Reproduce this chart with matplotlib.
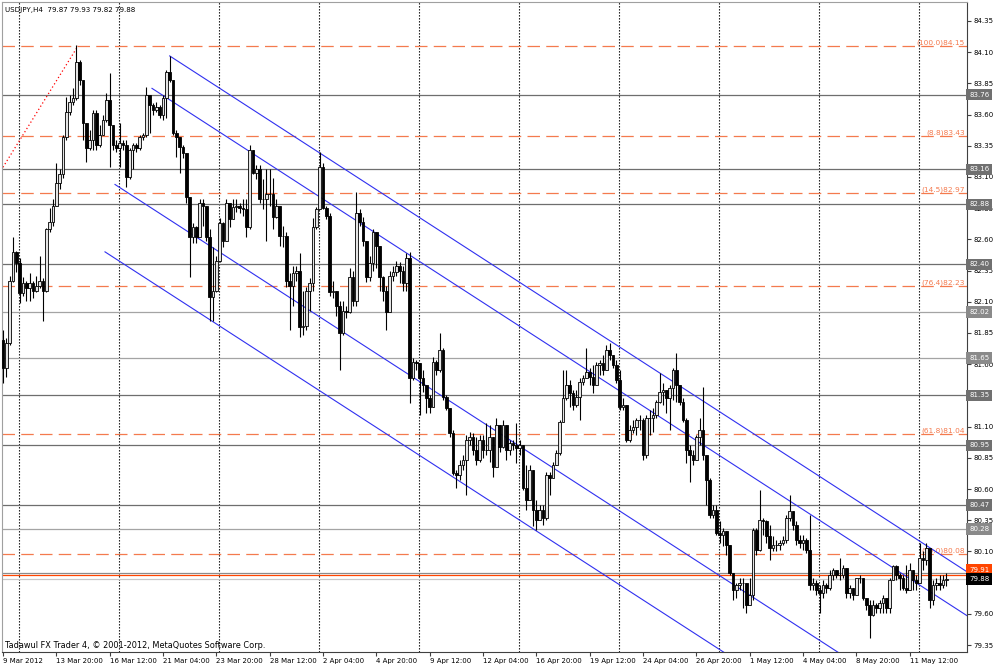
import numpy as np
import matplotlib.pyplot as plt
from matplotlib.transforms import blended_transform_factory

plt.rcParams['font.family'] = ['DejaVu Sans']

# header / footer text
symbol = "USDJPY,H4"
last_ohlc = [79.87, 79.93, 79.82, 79.88]
footer = "Tadawul FX Trader 4, \u00a9 2001-2012, MetaQuotes Software Corp."

# H4 candles (open of each bar = previous close)
first_open = 81.79
close = [
    81.57, 81.77, 82.27, 82.50, 82.41, 82.17, 82.25, 82.21, 82.25, 82.19,
    82.23, 82.27, 82.19, 82.68, 82.74, 82.87, 83.05, 83.12, 83.42, 83.62,
    83.70, 83.73, 84.02, 83.88, 83.53, 83.33, 83.40, 83.61, 83.36, 83.44,
    83.56, 83.72, 83.52, 83.36, 83.33, 83.37, 83.36, 83.10, 83.32, 83.36,
    83.33, 83.42, 83.44, 83.76, 83.68, 83.64, 83.66, 83.60, 83.73, 83.94,
    83.88, 83.45, 83.42, 83.34, 83.29, 82.94, 82.62, 82.70, 82.62, 82.89,
    82.87, 82.62, 82.14, 82.19, 82.43, 82.73, 82.59, 82.89, 82.76, 82.86,
    82.87, 82.85, 82.84, 82.70, 83.32, 83.13, 83.16, 82.92, 82.92, 82.96,
    82.96, 82.78, 82.87, 82.63, 82.63, 82.27, 82.23, 82.33, 82.35, 81.90,
    81.91, 82.19, 82.25, 82.70, 82.84, 83.18, 82.85, 82.79, 82.18, 82.19,
    82.07, 81.85, 82.03, 82.02, 82.30, 82.11, 82.81, 82.74, 82.59, 82.30,
    82.41, 82.66, 82.55, 82.30, 82.19, 82.02, 82.31, 82.34, 82.39, 82.35,
    82.25, 82.45, 81.49, 81.62, 81.61, 81.49, 81.43, 81.33, 81.26, 81.62,
    81.55, 81.71, 81.34, 81.25, 81.05, 80.73, 80.71, 80.79, 80.83, 80.99,
    81.02, 80.91, 80.83, 80.99, 80.91, 80.91, 81.02, 80.78, 81.11, 80.94,
    81.11, 80.91, 80.97, 80.95, 80.93, 80.95, 80.61, 80.51, 80.75, 80.43,
    80.35, 80.43, 80.37, 80.71, 80.69, 80.79, 80.89, 81.14, 81.33, 81.43,
    81.37, 81.27, 81.34, 81.46, 81.49, 81.54, 81.50, 81.43, 81.59, 81.61,
    81.55, 81.71, 81.67, 81.59, 81.47, 81.26, 81.27, 80.99, 81.07, 81.10,
    81.15, 81.15, 80.87, 81.17, 81.17, 81.19, 81.30, 81.38, 81.39, 81.33,
    81.41, 81.55, 81.43, 81.30, 81.15, 80.91, 80.87, 80.83, 81.02, 81.07,
    80.87, 80.67, 80.39, 80.43, 80.25, 80.23, 80.26, 80.15, 79.93, 79.79,
    79.83, 79.85, 79.85, 79.67, 79.75, 80.27, 80.11, 80.35, 80.34, 80.22,
    80.13, 80.15, 80.15, 80.17, 80.19, 80.37, 80.42, 80.31, 80.19, 80.17,
    80.19, 80.11, 79.83, 79.85, 79.79, 79.77, 79.83, 79.81, 79.91, 79.95,
    79.91, 79.91, 79.97, 79.77, 79.81, 79.75, 79.89, 79.89, 79.73, 79.67,
    79.59, 79.67, 79.65, 79.69, 79.73, 79.65, 79.87, 79.98, 79.91, 79.89,
    79.81, 79.79, 79.95, 79.87, 79.85, 80.05, 80.03, 80.13, 79.71, 79.83,
    79.85, 79.83, 79.87, 79.88,
]
high = [
    81.87, 81.81, 82.31, 82.62, 82.51, 82.45, 82.30, 82.27, 82.33, 82.27,
    82.31, 82.47, 82.29, 82.69, 82.85, 82.92, 83.21, 83.16, 83.44, 83.74,
    83.76, 83.81, 84.16, 84.04, 83.88, 83.53, 83.48, 83.64, 83.64, 83.52,
    83.60, 83.77, 83.93, 83.52, 83.40, 83.53, 83.40, 83.40, 83.33, 83.37,
    83.37, 83.44, 83.45, 83.82, 83.76, 83.69, 83.70, 83.68, 83.76, 83.96,
    84.07, 83.88, 83.48, 83.42, 83.36, 83.29, 82.94, 82.73, 82.71, 82.92,
    82.92, 82.87, 82.68, 82.54, 82.47, 82.77, 82.74, 82.92, 82.89, 82.92,
    82.92, 82.89, 82.92, 82.92, 83.36, 83.32, 83.20, 83.20, 83.08, 83.16,
    83.16, 83.09, 82.92, 82.87, 82.71, 82.66, 82.33, 82.39, 82.39, 82.49,
    82.19, 82.22, 82.29, 82.77, 82.86, 83.30, 83.21, 82.87, 82.81, 82.27,
    82.19, 82.11, 82.11, 82.07, 82.37, 82.35, 82.98, 82.84, 82.78, 82.59,
    82.47, 82.68, 82.61, 82.55, 82.31, 82.23, 82.35, 82.39, 82.43, 82.42,
    82.39, 82.49, 82.50, 81.65, 81.63, 81.55, 81.55, 81.43, 81.35, 81.66,
    81.63, 81.85, 81.73, 81.35, 81.25, 81.07, 80.75, 80.83, 80.87, 81.03,
    81.06, 81.05, 81.02, 81.03, 81.03, 81.13, 81.11, 81.01, 81.17, 81.11,
    81.15, 81.03, 80.99, 80.99, 81.13, 80.99, 80.91, 80.79, 80.79, 80.58,
    80.51, 80.47, 80.47, 80.74, 80.74, 80.82, 80.91, 81.15, 81.55, 81.55,
    81.47, 81.39, 81.39, 81.49, 81.51, 81.73, 81.57, 81.59, 81.62, 81.63,
    81.67, 81.75, 81.77, 81.67, 81.63, 81.55, 81.33, 81.27, 81.11, 81.15,
    81.17, 81.19, 81.17, 81.19, 81.23, 81.25, 81.31, 81.53, 81.45, 81.35,
    81.43, 81.57, 81.69, 81.43, 81.33, 81.17, 80.95, 80.91, 81.03, 81.17,
    81.42, 80.87, 80.69, 80.47, 80.47, 80.34, 80.29, 80.19, 80.15, 79.93,
    79.85, 79.89, 79.89, 79.85, 79.89, 80.29, 80.29, 80.59, 80.37, 80.35,
    80.31, 80.22, 80.19, 80.19, 80.22, 80.39, 80.55, 80.42, 80.34, 80.23,
    80.23, 80.21, 80.39, 79.89, 79.87, 79.83, 79.87, 79.85, 79.95, 79.97,
    79.93, 80.05, 79.99, 79.97, 79.83, 79.81, 79.89, 79.91, 79.89, 79.73,
    79.71, 79.71, 79.69, 79.71, 79.75, 79.71, 79.89, 79.99, 79.99, 79.93,
    79.91, 79.99, 80.01, 79.91, 79.91, 80.17, 80.10, 80.17, 80.13, 79.87,
    79.89, 79.91, 79.91, 79.93,
]
low = [
    81.45, 81.50, 81.75, 82.26, 82.34, 82.09, 82.15, 82.11, 82.11, 82.13,
    82.18, 82.21, 81.95, 82.18, 82.66, 82.71, 82.96, 83.00, 83.09, 83.40,
    83.60, 83.68, 83.72, 83.84, 83.40, 83.22, 83.32, 83.32, 83.32, 83.34,
    83.44, 83.54, 83.18, 83.32, 83.30, 83.18, 83.32, 83.02, 83.08, 83.16,
    83.30, 83.32, 83.40, 83.42, 83.45, 83.60, 83.62, 83.57, 83.56, 83.57,
    83.86, 83.44, 83.26, 83.13, 83.25, 82.89, 82.30, 82.57, 82.57, 82.62,
    82.71, 82.59, 81.95, 81.95, 82.18, 82.42, 82.54, 82.59, 82.70, 82.76,
    82.82, 82.81, 82.79, 82.62, 82.68, 83.12, 83.08, 82.89, 82.84, 82.59,
    82.87, 82.68, 82.77, 82.55, 82.54, 82.22, 81.87, 82.07, 82.27, 81.82,
    81.83, 81.87, 82.03, 82.19, 82.68, 82.84, 82.84, 82.76, 82.15, 82.13,
    81.99, 81.55, 81.83, 81.97, 82.01, 82.07, 82.07, 82.71, 82.55, 82.26,
    82.27, 82.35, 82.37, 82.19, 82.11, 81.87, 82.02, 82.27, 82.31, 82.25,
    82.19, 82.19, 81.29, 81.47, 81.55, 81.19, 81.38, 81.21, 81.21, 81.27,
    81.51, 81.54, 81.31, 81.23, 81.02, 80.71, 80.61, 80.67, 80.75, 80.55,
    80.95, 80.87, 80.79, 80.82, 80.85, 80.87, 80.82, 80.70, 80.82, 80.90,
    80.93, 80.83, 80.87, 80.91, 80.81, 80.87, 80.59, 80.43, 80.66, 80.30,
    80.27, 80.35, 80.31, 80.35, 80.55, 80.69, 80.79, 80.87, 81.15, 81.31,
    81.26, 81.23, 81.26, 81.15, 81.43, 81.49, 81.43, 81.37, 81.45, 81.51,
    81.51, 81.55, 81.63, 81.57, 81.45, 81.23, 81.23, 80.98, 80.98, 81.05,
    81.03, 81.07, 80.83, 80.85, 81.03, 81.06, 81.17, 81.29, 81.27, 81.21,
    81.07, 81.31, 81.30, 81.27, 81.14, 80.81, 80.66, 80.79, 80.86, 80.95,
    80.83, 80.47, 80.37, 80.37, 80.23, 80.17, 80.14, 80.07, 79.91, 79.71,
    79.73, 79.79, 79.65, 79.61, 79.71, 79.71, 80.07, 80.10, 80.23, 80.17,
    80.03, 80.10, 80.10, 80.11, 80.15, 80.17, 80.34, 80.27, 80.15, 80.13,
    80.11, 80.09, 79.79, 79.79, 79.75, 79.61, 79.73, 79.77, 79.79, 79.87,
    79.89, 79.87, 79.89, 79.73, 79.73, 79.71, 79.77, 79.85, 79.71, 79.63,
    79.41, 79.58, 79.61, 79.61, 79.61, 79.61, 79.61, 79.87, 79.87, 79.79,
    79.79, 79.77, 79.83, 79.79, 79.79, 79.85, 79.95, 79.99, 79.65, 79.67,
    79.79, 79.79, 79.81, 79.82,
]

time_labels = ["9 Mar 2012", "13 Mar 20:00", "16 Mar 12:00", "21 Mar 04:00",
               "23 Mar 20:00", "28 Mar 12:00", "2 Apr 04:00", "4 Apr 20:00",
               "9 Apr 12:00", "12 Apr 04:00", "16 Apr 20:00", "19 Apr 12:00",
               "24 Apr 04:00", "26 Apr 20:00", "1 May 12:00", "4 May 04:00",
               "8 May 20:00", "11 May 12:00"]
bars_per_label = 16
# scale labels that are not hidden under the line price boxes
price_ticks = [84.35, 84.10, 83.85, 83.60, 83.35, 83.10, 82.85, 82.60, 82.35,
               82.10, 81.85, 81.60, 81.10, 80.85, 80.60, 80.35, 80.10,
               79.60, 79.35]

# horizontal lines drawn by the user
hline_levels = [83.76, 83.16, 82.88, 82.40, 82.02, 81.65, 81.35, 80.95, 80.47, 80.28]
hline_colors = ['#6e6e6e', '#6e6e6e', '#6e6e6e', '#6e6e6e', '#a4a4a4',
                '#a4a4a4', '#6e6e6e', '#6e6e6e', '#6e6e6e', '#a4a4a4']
extra_level = 79.93
alert_level = 79.91
bid = last_ohlc[3]

# fibonacci retracement
fibo_names = ["100.0", "8.8", "14.5", "76.4", "61.8", "50.0"]
fibo_levels = [84.15, 83.43, 82.97, 82.23, 81.04, 80.08]
fibo_base = (-166, 76.01)
fibo_top = (22.5, 84.15)

# descending channel (start bar, start price), common slope per bar
channel_starts = [(50.0, 84.07), (44.7, 83.81), (33.6, 83.04), (30.6, 82.50)]
channel_slope = -0.01728

fib_col = '#f47a4e'
fs = 5.0

c = np.array(close)
h = np.array(high)
l = np.array(low)
o = np.r_[first_open, c[:-1]]
h = np.maximum(h, np.maximum(o, c))
l = np.minimum(l, np.minimum(o, c))
x = np.arange(len(c))

fig = plt.figure(figsize=(10, 6.67), dpi=100)
ax = fig.add_axes([0.002, 15 / 667, 0.965, 650 / 667])
x_right = 289.2
ax.set_xlim(-0.3, x_right)
ax.set_ylim(79.294, 84.502)

# vertical dotted grid
for gx in np.arange(4.9, x_right, 30):
    ax.axvline(gx, color='black', lw=0.8, dashes=(1.2, 1.5), zorder=1)

for lev, col in zip(hline_levels, hline_colors):
    ax.axhline(lev, color=col, lw=0.9, zorder=2)
ax.axhline(extra_level, color='#8c8c8c', lw=0.9, zorder=2)
ax.axhline(alert_level, color='#ff4500', lw=0.9, zorder=2)
ax.axhline(bid, color='#c8c8c8', lw=0.9, zorder=2)

for name, lev in zip(fibo_names, fibo_levels):
    ax.axhline(lev, color=fib_col, lw=0.9, dashes=(10, 5), zorder=2)
    ax.text(288.6, lev, "(%s)%.2f" % (name, lev), ha='right', va='bottom',
            color=fib_col, fontsize=5.3, zorder=3)
ax.plot([fibo_base[0], fibo_top[0]], [fibo_base[1], fibo_top[1]],
        color='red', lw=0.9, dashes=(1, 2), zorder=2)

for x0, p0 in channel_starts:
    ax.plot([x0, x_right + 5], [p0, p0 + channel_slope * (x_right + 5 - x0)],
            color='#3030f0', lw=0.8, zorder=3)

# candles
up = c >= o
ax.vlines(x, l, h, color='black', lw=0.8, zorder=4)
ax.bar(x[up], (c - o)[up], bottom=o[up], width=0.72, color='#e4e4e4',
       edgecolor='black', lw=0.6, zorder=5)
ax.bar(x[~up], (o - c)[~up], bottom=c[~up], width=0.72, color='black',
       edgecolor='black', lw=0.6, zorder=5)

# axes styling
for side in ['left', 'top']:
    ax.spines[side].set_color('#a0a0a0')
for side in ['right', 'bottom']:
    ax.spines[side].set_color('#404040')
ax.yaxis.tick_right()
ax.set_yticks(price_ticks)
ax.set_yticklabels(["%.2f" % p for p in price_ticks])
ax.tick_params(axis='y', direction='out', length=3, pad=1.5, labelsize=fs,
               color='#404040', width=0.8)
ax.set_xticks(np.arange(len(time_labels)) * bars_per_label)
ax.set_xticklabels(time_labels, ha='left')
ax.tick_params(axis='x', direction='out', length=3, pad=1, labelsize=fs,
               color='#404040', width=0.8)

# price labels of the lines on the axis
tr = blended_transform_factory(ax.transAxes, ax.transData)
def axis_box(lev, fc, tc='white', dy=0):
    ax.annotate("%.2f" % lev, xy=(1, lev), xycoords=tr, xytext=(1.5, dy),
                textcoords='offset points', ha='left', va='center', fontsize=fs,
                color=tc, annotation_clip=False, zorder=10,
                bbox=dict(boxstyle='square,pad=0.4', fc=fc, ec='none'))

for lev, col in zip(hline_levels, hline_colors):
    axis_box(lev, '#707070' if col == '#6e6e6e' else '#8a8a8a')
axis_box(alert_level, '#ff4500', dy=3.5)
axis_box(bid, 'black')

ax.text(0.003, 0.987, "%s  %.2f %.2f %.2f %.2f" % (symbol, *last_ohlc),
        transform=ax.transAxes, fontsize=5.1, va='center', ha='left')
ax.text(0.003, 0.0095, footer, transform=ax.transAxes, fontsize=5.9,
        va='center', ha='left')

fig.savefig("out.png", dpi=100, facecolor='white')
